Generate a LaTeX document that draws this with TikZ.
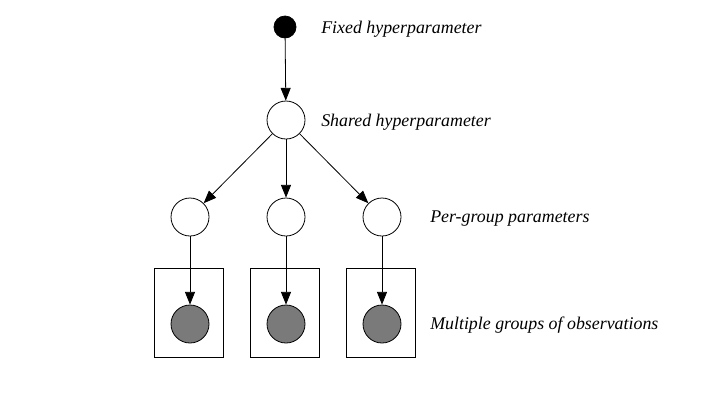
\documentclass[tikz,border=0pt]{standalone}
\usepackage{fontspec}
\setmainfont{Liberation Serif}
\usetikzlibrary{arrows.meta}
\tikzset{
  latent/.style={circle, draw, fill=white, line width=0.6pt, minimum size=28.5pt, inner sep=0pt},
  fixed/.style={circle, draw, fill=black, line width=0.6pt, minimum size=16.5pt, inner sep=0pt},
  observed/.style={circle, draw, fill=black!52, line width=0.6pt, minimum size=28.5pt, inner sep=0pt},
  plate/.style={rectangle, draw, line width=0.6pt, minimum width=51.75pt, minimum height=66.75pt, inner sep=0pt},
  lbl/.style={anchor=west, inner sep=0pt, font=\fontsize{13.4}{16}\selectfont\itshape},
  edge/.style={-{Triangle[length=9.5pt,width=7.5pt]}, line width=0.6pt}
}
\begin{document}
\begin{tikzpicture}[x=0.75pt, y=-0.75pt]
  \useasboundingbox (0,0) rectangle (727,401);
  % plates
  \node[plate] (plate1) at (188.5,312.5) {};
  \node[plate] (plate2) at (285,312.5) {};
  \node[plate] (plate3) at (381,312.5) {};
  % nodes
  \node[fixed] (fix) at (285,27) {};
  \node[latent] (shared) at (286,120) {};
  \node[latent] (grp1) at (190,217) {};
  \node[latent] (grp2) at (286,217) {};
  \node[latent] (grp3) at (382,217) {};
  \node[observed] (obs1) at (190,324) {};
  \node[observed] (obs2) at (286,324) {};
  \node[observed] (obs3) at (382,324) {};
  % arrows
  \draw[edge] (fix) -- (shared);
  \draw[edge] (shared) -- (grp1);
  \draw[edge] (shared) -- (grp2);
  \draw[edge] (shared) -- (grp3);
  \draw[edge] (grp1) -- (obs1);
  \draw[edge] (grp2) -- (obs2);
  \draw[edge] (grp3) -- (obs3);
  % labels
  \node[lbl] (fixlbl) at (321,29.5) {Fixed hyperparameter};
  \node[lbl] (sharedlbl) at (321,122.5) {Shared hyperparameter};
  \node[lbl] (grplbl) at (430,218.5) {Per-group parameters};
  \node[lbl] (obslbl) at (430,325.5) {Multiple groups of observations};
\end{tikzpicture}
\end{document}
